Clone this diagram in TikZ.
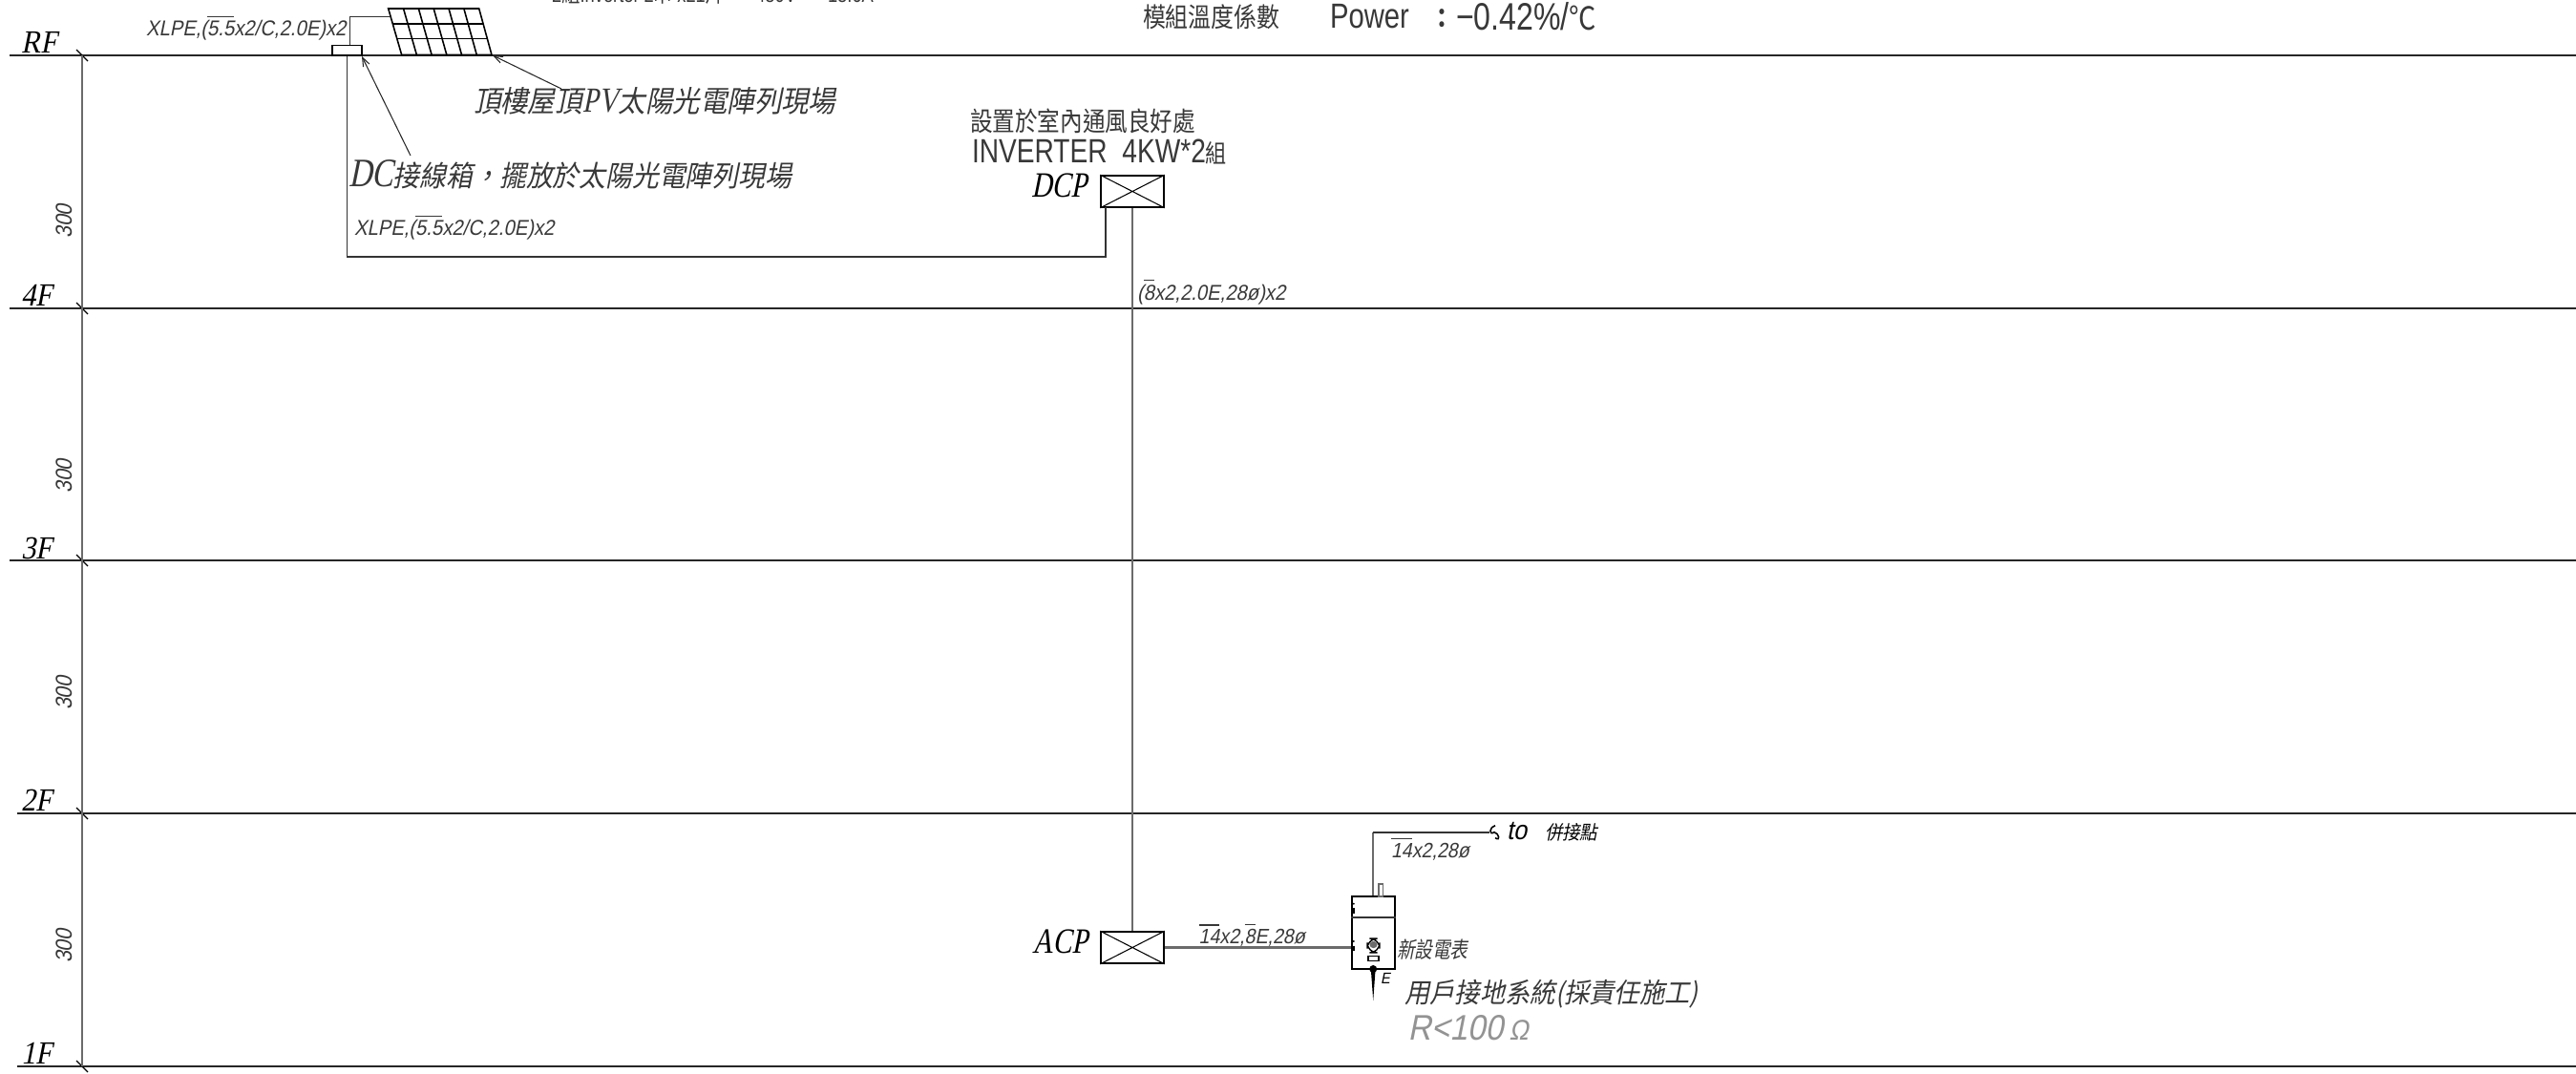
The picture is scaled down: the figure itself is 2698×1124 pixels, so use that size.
\documentclass[tikz,border=0pt]{standalone}
\usepackage{fontspec}
\usetikzlibrary{arrows.meta,calc}
\newfontfamily\cadit[FakeSlant=.2,FakeStretch=.9]{Liberation Sans}
\newfontfamily\cadup[FakeStretch=.8]{Liberation Sans}
\newfontfamily\serit[FakeSlant=.2,FakeStretch=.8]{Liberation Serif}
\newfontfamily\serfl[FakeSlant=.2,FakeStretch=.9]{Liberation Serif}
\newfontfamily\cjkit[FakeSlant=.2,FakeStretch=.92]{Noto Sans CJK TC}
\newfontfamily\cjknar[FakeSlant=.2,FakeStretch=.8]{Noto Sans CJK TC}
\newfontfamily\cjkup[FakeStretch=.85]{Noto Sans CJK TC}
\newcommand\cadbar[1]{$\overline{\hbox{#1}}$}
\newcommand\fs[1]{\fontsize{#1}{#1}\selectfont}
\definecolor{inkdim}{gray}{.42}
\definecolor{inktxt}{gray}{.22}
\tikzset{
  floorline/.style={line width=.6pt,black!85},
  dimline/.style={line width=.45pt,inkdim},
  wire/.style={line width=.4pt,black!80},
  riser/.style={line width=.45pt,inkdim},
  leader/.style={line width=.3pt,black!85,-{Straight Barb[length=2.6pt,width=2pt,line width=.3pt]}},
  lab/.style={inner sep=0pt,outer sep=0pt,anchor=west,text=inktxt},
  panel/.style={draw,line width=.45pt,inner sep=0pt,minimum width=.66cm,minimum height=.33cm},
  cell/.style={line width=.45pt,black},
}
\begin{document}
\begin{tikzpicture}[x=.01cm,y=-.01cm]
\useasboundingbox (0,0) rectangle (2698,1124);
% floors
\foreach \n/\yy/\xs in {rf/58/10,ff/323/10,tf/587/10,sf/852/18,of/1117/18}{
  \coordinate (\n L) at (\xs,\yy);
  \coordinate (\n D) at (86,\yy);
  \coordinate (\n R) at (2698,\yy);
  \draw[floorline] (\n L) -- (\n R);
  \draw[line width=.35pt,black] ($(\n D)+(-6,-6)$) -- ($(\n D)+(6,6)$);
}
\draw[dimline] (rfD) -- (ofD);
\foreach \n/\t/\yy in {lrf/RF/44,lff/4F/309,ltf/3F/574,lsf/2F/838,lof/1F/1103}{
  \node[lab,text=black] (\n) at (22,\yy) {\fs{9.6}\serfl \t};
}
\foreach \n/\yy in {da/232,db/499,dc/726,dd/991}{
  \node[inner sep=0pt,rotate=90,text=inktxt] (\n) at (67,\yy) {\fs{6.8}\cadit 300};
}
% PV array
\draw[cell] (406.7,9) -- (501.7,9) -- (515,57.5) -- (420.7,57.5) -- cycle;
\foreach \i in {1,...,5}{
  \draw[cell] ({406.7+\i*95/6},9) -- ({420.7+\i*94.3/6},57.5);
}
\draw[cell] (411.2,25) -- (506.2,25);
\draw[cell] (415.6,40.7) -- (510.5,40.7);
\coordinate (pvcorner) at (516,58);
\coordinate (pvin) at (408.5,17.3);
% DC junction box
\node[panel,minimum width=.305cm,minimum height=.107cm] (dcbox) at (363.5,52.7) {};
\coordinate (dcup) at (366.7,47.3);
\coordinate (dcupc) at (366.7,17.3);
\draw[wire] (dcup) -- (dcupc) -- (pvin);
% DCP, ACP
\node[panel] (dcp) at (1186,200.5) {};
\node[panel] (acp) at (1186,992.5) {};
\draw[line width=.3pt] (dcp.north west) -- (dcp.south east) (dcp.north east) -- (dcp.south west);
\draw[line width=.3pt] (acp.north west) -- (acp.south east) (acp.north east) -- (acp.south west);
\coordinate (dcbend) at (363.5,269);
\coordinate (dcpin) at (1158,217);
\draw[wire] (dcbox.south) -- (dcbend) -- (dcbend -| dcpin) -- (dcpin);
\draw[riser] (dcp.south) -- (acp.north);
% meter
\node[draw,line width=.45pt,inner sep=0pt,minimum width=.45cm,minimum height=.76cm] (meter) at (1438.2,977) {};
\draw[line width=.6pt,black!80] ($(meter.north west)+(0,22.7)$) -- ($(meter.north east)+(0,22.7)$);
\draw[riser,line width=.7pt] (acp.east) -- (acp.east -| meter.west);
\coordinate (metup) at (1438.2,871.7);
\coordinate (metend) at (1560,871.7);
\draw[riser] (meter.north) -- (metup);
\draw[wire,line width=.5pt] (metup) -- (metend);
\draw[line width=.45pt] (metend) ++(6,-7) .. controls +(-6,1) and +(-6,4) .. +(-1,7) .. controls +(5,1) and +(6,4) .. +(0,13);
\draw[line width=.3pt,inkdim] (1444,939) rectangle (1448.3,926);
\foreach \yy in {946.7,986}{
  \fill (1417.8,\yy) circle (1.1);
  \draw[line width=.6pt] (1417.8,\yy+4.5) -- (1417.8,\yy+10);
}
\draw[line width=.4pt,rounded corners=3pt] (1432,998) -- (1432,983) -- (1445,983) -- (1445,998) -- cycle;
\fill[rounded corners=1pt,inkdim] (1434.5,986) rectangle (1442.5,993);
\draw[line width=.3pt] (1433,1001.7) rectangle (1444,1006.7);
\fill (1438.2,1015) circle (4);
\fill (1435.8,1015) -- (1440.6,1015) -- (1438.2,1048) -- cycle;
\node[lab,text=black] (elabel) at (1446,1025) {\fs{4.6}\cadit E};
% text
\node[lab] (pvtext) at (496,106) {\fs{8.8}\cjkit 頂樓屋頂{\serit\fs{10.5}PV}太陽光電陣列現場};
\node[lab] (dctext) at (365,183) {\fs{8.6}\cjkit {\serit\fs{12}DC}接線箱，擺放於太陽光電陣列現場};
\coordinate (pvlead) at (588,93);
\coordinate (dclead) at (430,163);
\draw[leader] (pvlead) -- (pvcorner);
\draw[leader] (dclead) -- (379,59);
\node[lab] (xa) at (153,29) {\fs{6.4}\cadit XLPE,(\cadbar{5.5}x2/C,2.0E)x2};
\node[lab] (xb) at (371,238) {\fs{6.4}\cadit XLPE,(\cadbar{5.5}x2/C,2.0E)x2};
\node[lab] (topspec) at (578,-6) {\fs{6.5}\cadup 2{\cjkup 組}Inverter 2{\cjkup 串} x21{\cjkup 片} \quad\ 480V \quad\ 18.6A};
\node[lab] (modtemp) at (1197,18) {\fs{8}\cjkup 模組溫度係數};
\node[lab] (power) at (1393,17) {\fs{10.4}\cadup Power};
\node[inner sep=0pt,text=inktxt] (pcolon) at (1510,20) {\fs{8}\cjkup\bfseries ：};
\node[lab] (pval) at (1525,17) {\fs{11.4}\cadup −0.42\%/{\cjkup\fs{9.5}℃}};
\node[lab] (sit) at (1016,127) {\fs{7.9}\cjkup 設置於室內通風良好處};
\node[lab] (inv) at (1018,159) {\fs{10}\cadup INVERTER\ \ 4KW*2{\cjkup\fs{7.4}組}};
\node[lab,text=black] (dcptext) at (1080,194) {\fs{10.6}\serit DCP};
\node[lab,text=black] (acptext) at (1081,986) {\fs{10.6}\serit ACP};
\node[lab] (riserlab) at (1191,305) {\fs{6.4}\cadit (\cadbar{8}x2,2.0E,28ø)x2};
\node[lab] (acwire) at (1255.6,979) {\fs{6.2}\cadit \cadbar{14}x2,\cadbar{8}E,28ø};
\node[lab] (upwire) at (1457,889) {\fs{6.2}\cadit \cadbar{14}x2,28ø};
\node[lab,text=black] (tolab) at (1578,871) {\fs{8}\cadit to};
\node[lab,text=black] (conn) at (1618,872) {\fs{5.7}\cjkit 併接點};
\node[lab] (meterlab) at (1463,995) {\fs{6.6}\cjknar 新設電表};
\node[lab] (earth) at (1471,1041) {\fs{8.15}\cjkit 用戶接地系統(採責任施工)};
\node[lab,text=gray!85] (ohm) at (1474.5,1077) {\fs{10.6}\cadit R<100\,{\fs{8.5}Ω}};
\end{tikzpicture}
\end{document}
